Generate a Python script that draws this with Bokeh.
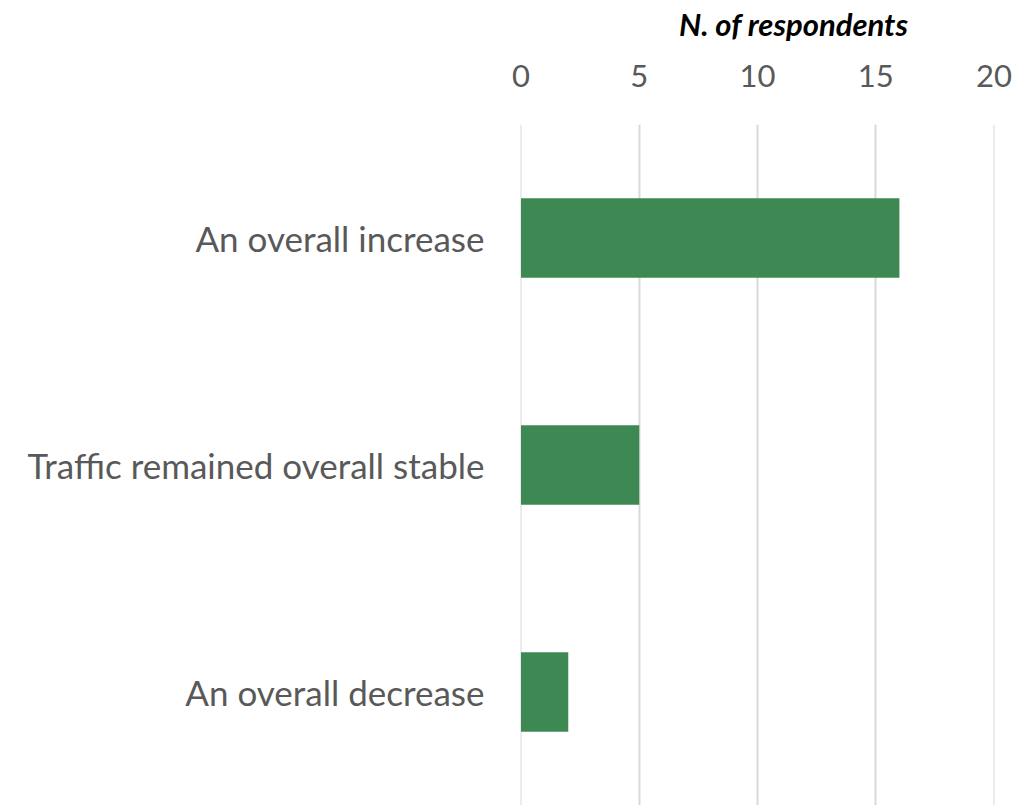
from bokeh.plotting import figure
from bokeh.models import Div, FixedTicker
from bokeh.layouts import column
from bokeh.embed import file_html
from bokeh.resources import INLINE

categories = ["An overall increase", "Traffic remained overall stable", "An overall decrease"]
values = [16, 5, 2]
x_ticks = [0, 5, 10, 15, 20]
title_text = "N. of respondents"

FONT = "Lato"
DIV_H = 56

title_div = Div(text=title_text, width=908, height=DIV_H, margin=0,
                styles={"font-family": FONT, "font-size": "31px", "font-weight": "bold",
                        "font-style": "italic", "color": "black", "text-align": "right",
                        "line-height": "1.2", "padding-top": "6px"})

p = figure(width=1026, height=805 - DIV_H, y_range=list(reversed(categories)), x_range=(-0.02, 20.02),
           output_backend="svg", toolbar_location=None, x_axis_location="above",
           min_border_left=520, min_border_right=32, min_border_top=124 - DIV_H, min_border_bottom=0,
           margin=0)

p.hbar(y=categories, right=values, left=0, height=0.35, fill_color="#3e8853", line_color=None)

p.xaxis.ticker = FixedTicker(ticks=x_ticks)
for ax in (p.xaxis, p.yaxis):
    ax.axis_line_color = None
    ax.major_tick_line_color = None
    ax.minor_tick_line_color = None
    ax.major_label_text_font = FONT
    ax.major_label_text_color = "#595959"
p.xaxis.major_label_text_font_size = "31px"
p.yaxis.major_label_text_font_size = "35px"
p.xaxis.major_label_standoff = 32
p.yaxis.major_label_standoff = 30

p.xgrid.grid_line_color = "#d9d9d9"
p.xgrid.grid_line_width = 2
p.ygrid.grid_line_color = None
p.outline_line_color = None

layout = column(title_div, p, spacing=0)

open("out.html", "w").write(file_html(layout, INLINE))
